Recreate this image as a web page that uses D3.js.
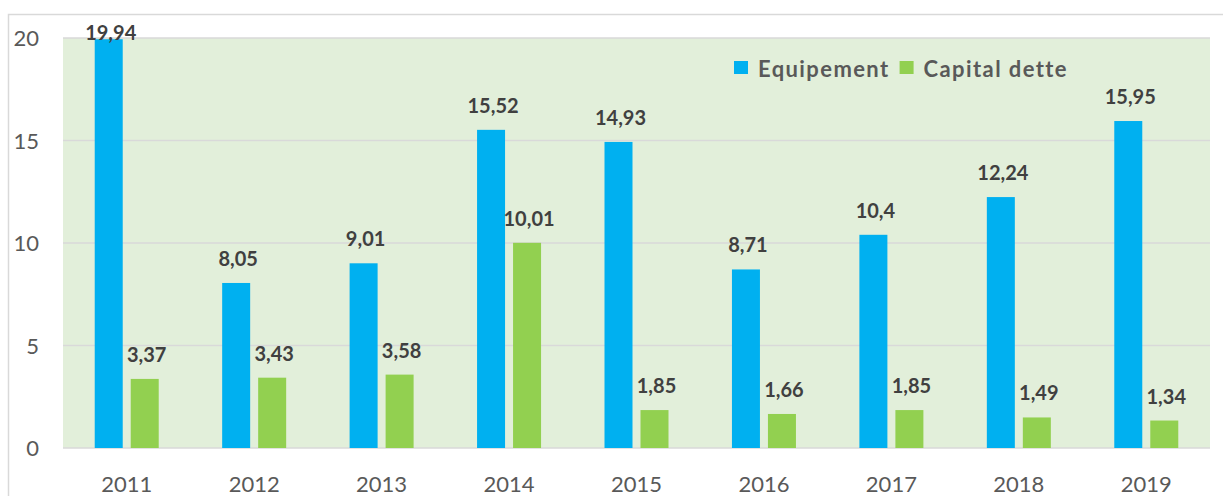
<!DOCTYPE html>
<html>
<head>
<meta charset="utf-8">
<script src="https://cdn.jsdelivr.net/npm/d3@7"></script>
<style>
  body { margin: 0; background: #fff; }
  svg text { font-family: Lato, "Open Sans", sans-serif; }
</style>
</head>
<body>
<div id="chart"></div>
<script>
const years = ['2011', '2012', '2013', '2014', '2015', '2016', '2017', '2018', '2019'];
const series = ['Equipement', 'Capital dette'];
const equipement = [19.94, 8.05, 9.01, 15.52, 14.93, 8.71, 10.4, 12.24, 15.95];
const capitalDette = [3.37, 3.43, 3.58, 10.01, 1.85, 1.66, 1.85, 1.49, 1.34];
const yTicks = [0, 5, 10, 15, 20];

const colors = { 'Equipement': '#00B0F0', 'Capital dette': '#92D050' };

const width = 1223, height = 496;
const plot = { left: 63, right: 1210, top: 38, bottom: 448 };

const svg = d3.select('#chart').append('svg')
  .attr('width', width)
  .attr('height', height);

// outer chart border
svg.append('rect')
  .attr('x', 8.5).attr('y', 14.5)
  .attr('width', 1300).attr('height', 600)
  .attr('fill', 'none')
  .attr('stroke', '#d9d9d9')
  .attr('stroke-width', 1.5);

const y = d3.scaleLinear().domain([0, 20]).range([plot.bottom, plot.top]);

const x0 = d3.scaleBand().domain(years).range([plot.left, plot.right]).padding(0);
const groupPad = (x0.bandwidth() - 64) / 2;
const x1 = d3.scaleBand().domain(series)
  .range([groupPad, x0.bandwidth() - groupPad])
  .paddingInner(8 / 36).paddingOuter(0);

// plot background
svg.append('rect')
  .attr('x', plot.left).attr('y', plot.top)
  .attr('width', plot.right - plot.left)
  .attr('height', plot.bottom - plot.top)
  .attr('fill', '#E2EFDA');

// gridlines
svg.append('g').selectAll('line')
  .data(yTicks)
  .enter().append('line')
  .attr('x1', plot.left).attr('x2', plot.right)
  .attr('y1', d => y(d)).attr('y2', d => y(d))
  .attr('stroke', '#d9d9d9')
  .attr('stroke-width', 1.5);

// y tick labels
svg.append('g').selectAll('text')
  .data(yTicks)
  .enter().append('text')
  .attr('x', 39)
  .attr('y', d => y(d) + 8)
  .attr('text-anchor', 'end')
  .attr('font-size', '22px')
  .attr('fill', '#595959')
  .text(d => d);

// x labels
svg.append('g').selectAll('text')
  .data(years)
  .enter().append('text')
  .attr('x', d => x0(d) + x0.bandwidth() / 2)
  .attr('y', 492)
  .attr('text-anchor', 'middle')
  .attr('font-size', '22px')
  .attr('fill', '#595959')
  .text(d => d);

const rows = years.map((yr, i) => ({
  year: yr,
  values: [
    { key: 'Equipement', value: equipement[i] },
    { key: 'Capital dette', value: capitalDette[i] }
  ]
}));

const groups = svg.append('g').selectAll('g')
  .data(rows)
  .enter().append('g')
  .attr('transform', d => `translate(${x0(d.year)},0)`);

groups.selectAll('rect')
  .data(d => d.values)
  .enter().append('rect')
  .attr('x', d => x1(d.key))
  .attr('y', d => y(d.value))
  .attr('width', x1.bandwidth())
  .attr('height', d => y(0) - y(d.value))
  .attr('fill', d => colors[d.key]);

groups.selectAll('text')
  .data(d => d.values)
  .enter().append('text')
  .attr('x', d => x1(d.key) + x1.bandwidth() / 2 + 2)
  .attr('y', d => Math.max(y(d.value) - 17, 40))
  .attr('text-anchor', 'middle')
  .attr('font-size', '20px')
  .attr('font-weight', 'bold')
  .attr('fill', '#404040')
  .text(d => String(d.value).replace('.', ','));

// legend
const legend = svg.append('g').attr('transform', 'translate(734,61)');
let lx = 0;
series.forEach(s => {
  legend.append('rect')
    .attr('x', lx).attr('y', 0)
    .attr('width', 14).attr('height', 13)
    .attr('fill', colors[s]);
  const t = legend.append('text')
    .attr('x', lx + 24).attr('y', 16)
    .attr('font-size', '22px')
    .attr('font-weight', 'bold')
    .attr('letter-spacing', '1.4px')
    .attr('fill', '#595959')
    .text(s);
  lx += 24 + t.node().getComputedTextLength() + 10;
});
</script>
</body>
</html>
